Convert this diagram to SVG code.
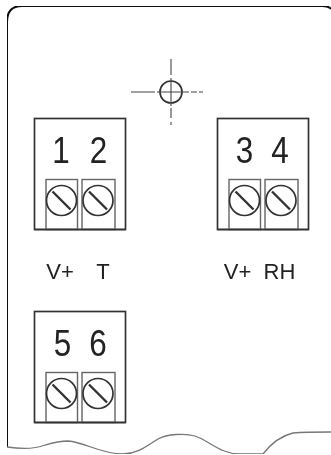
<svg xmlns="http://www.w3.org/2000/svg" width="331" height="455" viewBox="0 0 331 455">
<style>
.o{fill:none;stroke:#333;stroke-width:1.7}
.i{fill:none;stroke:#666;stroke-width:1.4}
.s{fill:none;stroke:#333;stroke-width:1.7}
.c{fill:none;stroke:#444;stroke-width:1.1}
.n{font-family:"Liberation Sans",sans-serif;font-size:37px;fill:#222;text-anchor:middle}
.l{font-family:"Liberation Sans",sans-serif;font-size:22px;fill:#222;text-anchor:middle}
</style>
<defs>
<filter id="b" x="0" y="0" width="100%" height="100%"><feGaussianBlur stdDeviation="0.4"/></filter>
<g id="t">
<rect class="o" x="0" y="0" width="91" height="111"/>
<rect class="i" x="11.500" y="61" width="31.500" height="50"/>
<rect class="i" x="47.500" y="61" width="33" height="50"/>
<circle class="s" cx="27" cy="82" r="15"/>
<circle class="s" cx="63.500" cy="82" r="15"/>
<path class="s" style="stroke-width:2.400" d="M18 73L36 91M54.500 73L72.500 91"/>
<path class="o" d="M0 111H91"/>
</g>
</defs>
<rect width="331" height="455" fill="#fff"/>
<g filter="url(#b)">
<g id="connectors">
<path fill="none" stroke="#111" stroke-width="2" d="M331 9Q329 6 322 6H22Q7 6 7 22V447"/>
<path fill="none" stroke="#777" stroke-width="1.300" d="M7 447C20 449 35 449 45 445C52 443 60 441 68 441C85 442 100 454 123 454C138 454 148 445 158 439C167 434 185 433 195 436C210 441 220 454 240 454C250 454 258 454 263 454C270 445 280 436 293 433C305 432 318 432 331 432"/>
</g>
<g id="mark">
<circle class="s" cx="171" cy="92" r="11"/>
<path class="c" d="M131 92H155M157 92H189M191 92H197M199 92H203M171 59V75M171 78V106M171 108V118M171 122V125"/>
</g>
<g id="block-1-2"><use href="#t" x="34.500" y="118.500"/>
<text class="n" transform="translate(61 163) scale(.85 1)">1</text><text class="n" transform="translate(98.500 163) scale(.85 1)">2</text></g>
<g id="block-3-4"><use href="#t" x="217.500" y="118.500"/>
<text class="n" transform="translate(244.500 163) scale(.85 1)">3</text><text class="n" transform="translate(280 163) scale(.85 1)">4</text></g>
<g id="block-5-6"><use href="#t" x="34.500" y="311.500"/>
<text class="n" transform="translate(62.500 356) scale(.85 1)">5</text><text class="n" transform="translate(98 356) scale(.85 1)">6</text></g>
<g id="labels">
<text class="l" x="60" y="279">V+</text><text class="l" x="103" y="279">T</text>
<text class="l" x="237.500" y="279">V+</text><text class="l" x="279.500" y="279">RH</text>
</g>
</g>
</svg>
